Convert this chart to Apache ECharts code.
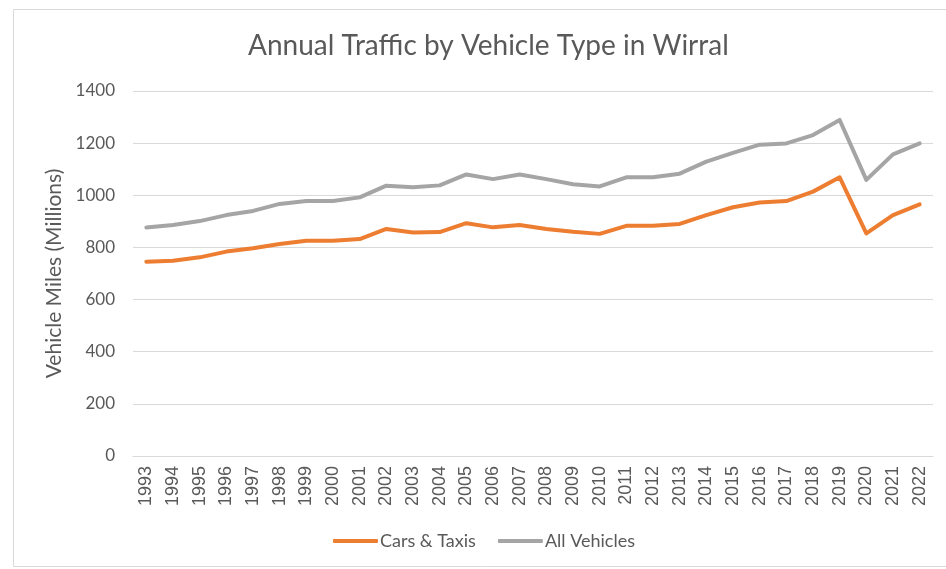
<!DOCTYPE html>
<html>
<head>
<meta charset="utf-8">
<script src="https://cdn.jsdelivr.net/npm/echarts@6/dist/echarts.min.js"></script>
<style>
html,body{margin:0;padding:0;background:#fff;}
#chart{width:946px;height:569px;}
</style>
</head>
<body>
<div id="chart"></div>
<script>
const years=['1993','1994','1995','1996','1997','1998','1999','2000','2001','2002','2003','2004','2005','2006','2007','2008','2009','2010','2011','2012','2013','2014','2015','2016','2017','2018','2019','2020','2021','2022'];
const carsTaxis=[745,749,762,784,797,813,826,826,832,871,857,859,893,877,886,871,860,852,883,883,890,924,954,972,978,1014,1069,854,924,965];
const allVehicles=[876,886,901,924,940,967,978,978,992,1037,1031,1038,1080,1062,1080,1062,1042,1034,1069,1069,1083,1129,1163,1194,1199,1231,1289,1059,1157,1199];
const yTicks=[0,200,400,600,800,1000,1200,1400];

const textColor='#595959';
const gridColor='#d9d9d9';
var myChart=echarts.init(document.getElementById('chart'));
var option={
    backgroundColor:'#fff',
    animation:false,
    title:{
        text:'Annual Traffic by Vehicle Type in Wirral',
        left:243,
        top:27,
        textStyle:{
            fontFamily:'Lato',
            fontSize:28,
            fontWeight:'normal',
            color:textColor
        }
    },
    graphic:[{
        type:'rect',
        shape:{x:13.5,y:9.5,width:940,height:557},
        style:{fill:'none',stroke:gridColor,lineWidth:1},
        silent:true
    }],
    legend:{
        bottom:14,
        left:328,
        itemWidth:45,
        itemHeight:4,
        itemGap:22,
        icon:'roundRect',
        textStyle:{
            fontFamily:'Lato',
            fontSize:18,
            color:textColor,
            padding:[0,0,0,-3]
        },
        data:['Cars & Taxis','All Vehicles']
    },
    grid:{
        left:133,
        right:13,
        top:91,
        bottom:113
    },
    xAxis:{
        type:'category',
        data:years,
        boundaryGap:true,
        axisTick:{show:false},
        axisLine:{lineStyle:{color:gridColor,width:1}},
        axisLabel:{
            rotate:90,
            interval:0,
            margin:10,
            fontFamily:'Liberation Sans',
            fontSize:18,
            color:textColor
        }
    },
    yAxis:{
        type:'value',
        min:yTicks[0],
        max:yTicks[yTicks.length-1],
        interval:200,
        name:'Vehicle Miles (Millions)',
        nameLocation:'middle',
        nameGap:64,
        nameTextStyle:{
            fontFamily:'Lato',
            fontSize:21,
            color:textColor
        },
        axisLine:{show:false},
        axisTick:{show:false},
        axisLabel:{
            margin:18,
            fontFamily:'Lato',
            fontSize:17,
            color:textColor,
            formatter:function(v){return String(v);}
        },
        splitLine:{lineStyle:{color:gridColor,width:1}}
    },
    series:[{
        name:'Cars & Taxis',
        type:'line',
        data:carsTaxis,
        showSymbol:false,
        symbol:'none',
        lineStyle:{color:'#ED7D31',width:4,cap:'round',join:'round'},
        itemStyle:{color:'#ED7D31'}
    },{
        name:'All Vehicles',
        type:'line',
        data:allVehicles,
        showSymbol:false,
        symbol:'none',
        lineStyle:{color:'#A5A5A5',width:4,cap:'round',join:'round'},
        itemStyle:{color:'#A5A5A5'}
    }]
};
myChart.setOption(option);
</script>
</body>
</html>
